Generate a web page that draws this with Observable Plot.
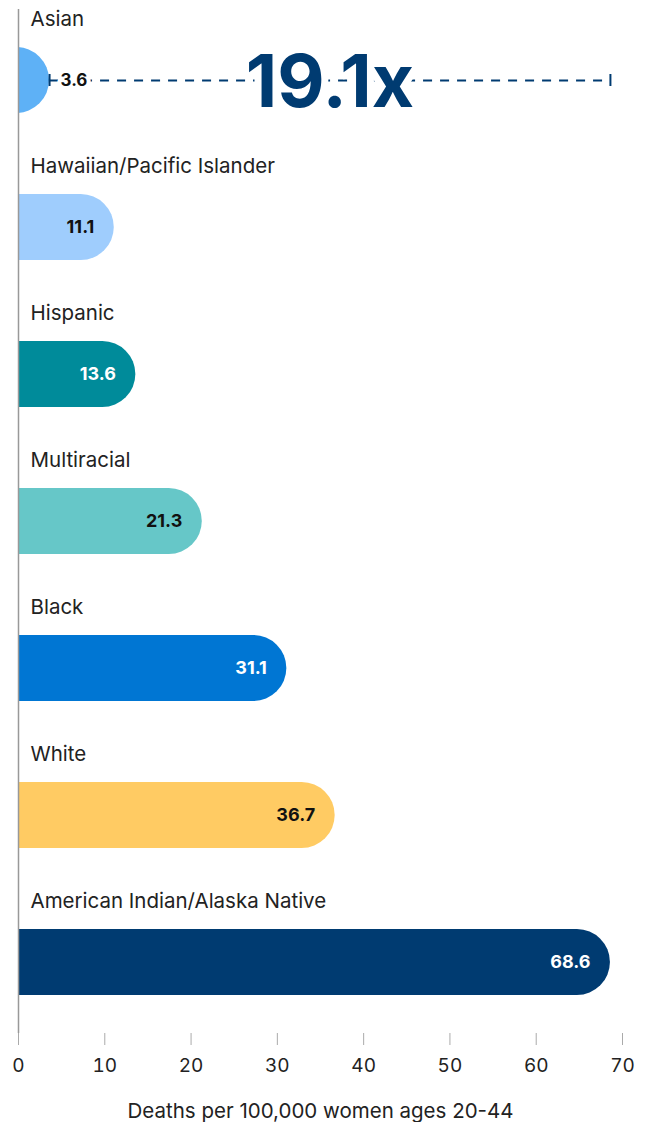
<!DOCTYPE html>
<html><head><meta charset="utf-8">
<script src="https://cdn.jsdelivr.net/npm/d3@7"></script>
<script src="https://cdn.jsdelivr.net/npm/@observablehq/plot@0.6"></script>
<style>body{margin:0;background:#fff} #chart svg{display:block}</style>
</head><body><div id="chart"></div>
<script>
const categories = ["Asian","Hawaiian/Pacific Islander","Hispanic","Multiracial","Black","White","American Indian/Alaska Native"];
const values = [3.6, 11.1, 13.6, 21.3, 31.1, 36.7, 68.6];
const xTicks = [0, 10, 20, 30, 40, 50, 60, 70];
const xLabel = "Deaths per 100,000 women ages 20-44";
const palette = ["#5eb1f6", "#9fcdfd", "#008b9a", "#66c7c8", "#0076d3", "#ffcb63", "#003b71"];

const data = categories.map((c, i) => ({category: c, value: values[i], color: palette[i]}));
const low = data[0], high = data[data.length - 1];
const ratio = (high.value / low.value).toFixed(1) + "x";
const textColor = d => d3.lab(d.color).l < 60 ? "#ffffff" : "#111111";
const dark = "#003b71";

const chart = Plot.plot({
  width: 646, height: 1122,
  marginLeft: 18, marginRight: 24, marginTop: 9, marginBottom: 89,
  style: {fontFamily: "Inter, 'Open Sans', sans-serif", fontSize: "18px", color: "#222", background: "white", overflow: "visible"},
  x: {domain: [0, 70]},
  y: {domain: categories, paddingInner: 0.552, paddingOuter: 0.251, axis: null},
  marks: [
    Plot.barX(data, {y: "category", x1: -8, x2: "value", fill: "color", rx: 33, clip: true}),
    Plot.ruleX([0], {stroke: "#999", strokeWidth: 1.5}),
    Plot.axisX({ticks: xTicks, tickSize: 12, tickPadding: 13, fontSize: 19, stroke: "#aaa", fill: "#222",
      label: null, line: true}),
    Plot.axisX({ticks: [], fontSize: 20.5, fill: "#222",
      label: xLabel, labelAnchor: "center", labelOffset: 84, labelArrow: "none"}),
    Plot.ruleY([low], {y: "category", x1: low.value, x2: high.value, stroke: dark, strokeWidth: 2, strokeDasharray: "9,8"}),
    Plot.tickX([{category: low.category, value: low.value}, {category: low.category, value: high.value}],
      {y: "category", x: "value", stroke: dark, strokeWidth: 2, insetTop: 27, insetBottom: 27}),
    Plot.text(data, {y: "category", x: 0, text: "category", textAnchor: "start", dx: 12, dy: -61, fontSize: 20.5, fill: "#222"}),
    Plot.text(data.slice(1), {y: "category", x: "value", text: d => d.value.toFixed(1), textAnchor: "end", dx: -20, fill: textColor, fontWeight: 700, fontSize: 18}),
    Plot.text([low], {y: "category", x: "value", text: d => d.value.toFixed(1), textAnchor: "start", dx: 11, fontWeight: 700, fontSize: 17, fill: "#111", stroke: "white", strokeWidth: 8}),
    Plot.text([low], {y: "category", x: () => (low.value + high.value) / 2, text: () => ratio, fontSize: 73, fontWeight: 700, fill: dark, stroke: "white", strokeWidth: 14, dy: 3})
  ]
});
document.getElementById("chart").append(chart);
</script>
</body></html>
